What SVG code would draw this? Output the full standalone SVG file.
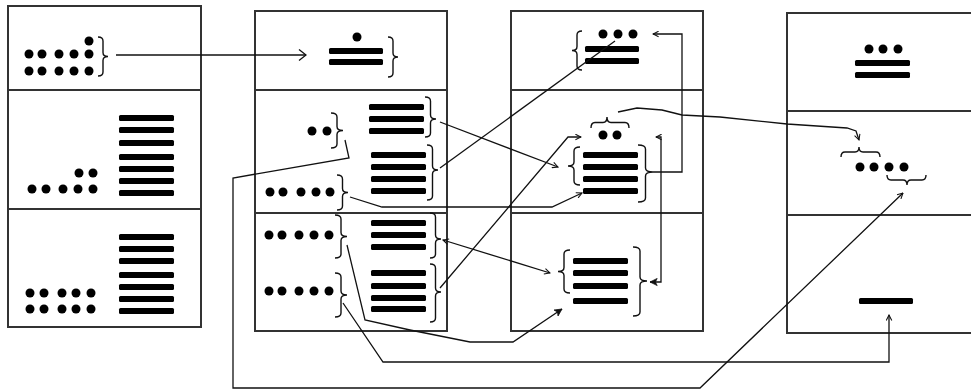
<svg xmlns="http://www.w3.org/2000/svg" width="971" height="391" viewBox="0 0 971 391">
<style>
.box{fill:none;stroke:#333;stroke-width:2}
.d{fill:#000}
.b{fill:#000}
.br{fill:none;stroke:#111;stroke-width:1.4}
.c{fill:none;stroke:#111;stroke-width:1.3}
</style>
<defs>
<marker id="ao" viewBox="0 0 10 10" refX="9" refY="5" markerWidth="7" markerHeight="7" markerUnits="userSpaceOnUse" orient="auto-start-reverse"><path d="M1,1 L9,5 L1,9" fill="none" stroke="#111" stroke-width="1.5"/></marker>
<marker id="abig" viewBox="0 0 10 10" refX="9" refY="5" markerWidth="14" markerHeight="14" markerUnits="userSpaceOnUse" orient="auto"><path d="M4,1 L9,5 L4,9" fill="none" stroke="#111" stroke-width="0.9"/></marker>
<marker id="af" viewBox="0 0 10 10" refX="9" refY="5" markerWidth="9" markerHeight="9" markerUnits="userSpaceOnUse" orient="auto"><path d="M1,1 L9,5 L1,9 L3,5 Z" fill="#111" stroke="#111" stroke-width="0.8"/></marker>
</defs>

<g id="col1">
<rect class="box" x="8" y="6" width="193" height="321"/>
<line class="box" x1="8" y1="90" x2="201" y2="90"/>
<line class="box" x1="8" y1="209" x2="201" y2="209"/>
</g>
<g id="c1-top">
<circle class="d" cx="89" cy="41" r="4.5"/>
<circle class="d" cx="29" cy="54" r="4.5"/><circle class="d" cx="42" cy="54" r="4.5"/><circle class="d" cx="59" cy="54" r="4.5"/><circle class="d" cx="74" cy="54" r="4.5"/><circle class="d" cx="89" cy="54" r="4.5"/>
<circle class="d" cx="29" cy="71" r="4.5"/><circle class="d" cx="42" cy="71" r="4.5"/><circle class="d" cx="59" cy="71" r="4.5"/><circle class="d" cx="74" cy="71" r="4.5"/><circle class="d" cx="89" cy="71" r="4.5"/>
<path class="br" d="M98,37 Q103,37 103,41 L103,52.5 Q103,56.5 108,56.5 Q103,56.5 103,60.5 L103,72 Q103,76 98,76"/>
</g>
<g id="c1-mid">
<circle class="d" cx="79" cy="173" r="4.5"/><circle class="d" cx="93" cy="173" r="4.5"/>
<circle class="d" cx="32" cy="189" r="4.5"/><circle class="d" cx="46" cy="189" r="4.5"/><circle class="d" cx="63" cy="189" r="4.5"/><circle class="d" cx="78" cy="189" r="4.5"/><circle class="d" cx="93" cy="189" r="4.5"/>
<rect class="b" x="119" y="115" width="55" height="6" rx="1.5"/><rect class="b" x="119" y="127" width="55" height="6" rx="1.5"/><rect class="b" x="119" y="140" width="55" height="6" rx="1.5"/><rect class="b" x="119" y="154" width="55" height="6" rx="1.5"/><rect class="b" x="119" y="166" width="55" height="6" rx="1.5"/><rect class="b" x="119" y="178" width="55" height="6" rx="1.5"/><rect class="b" x="119" y="190" width="55" height="6" rx="1.5"/>
</g>
<g id="c1-bot">
<rect class="b" x="119" y="234" width="55" height="6" rx="1.5"/><rect class="b" x="119" y="246" width="55" height="6" rx="1.5"/><rect class="b" x="119" y="258" width="55" height="6" rx="1.5"/><rect class="b" x="119" y="272" width="55" height="6" rx="1.5"/><rect class="b" x="119" y="284" width="55" height="6" rx="1.5"/><rect class="b" x="119" y="296" width="55" height="6" rx="1.5"/><rect class="b" x="119" y="308" width="55" height="6" rx="1.5"/>
<circle class="d" cx="30" cy="293" r="4.5"/><circle class="d" cx="44" cy="293" r="4.5"/><circle class="d" cx="62" cy="293" r="4.5"/><circle class="d" cx="76" cy="293" r="4.5"/><circle class="d" cx="91" cy="293" r="4.5"/>
<circle class="d" cx="30" cy="309" r="4.5"/><circle class="d" cx="44" cy="309" r="4.5"/><circle class="d" cx="62" cy="309" r="4.5"/><circle class="d" cx="76" cy="309" r="4.5"/><circle class="d" cx="91" cy="309" r="4.5"/>
</g>

<g id="col2">
<rect class="box" x="255" y="11" width="192" height="320"/>
<line class="box" x1="255" y1="90" x2="447" y2="90"/>
<line class="box" x1="255" y1="213" x2="447" y2="213"/>
</g>
<g id="c2-top">
<circle class="d" cx="357" cy="37" r="4.5"/>
<rect class="b" x="329" y="48" width="54" height="6" rx="1.5"/><rect class="b" x="329" y="59" width="54" height="6" rx="1.5"/>
<path class="br" d="M388,37 Q393,37 393,41 L393,53 Q393,57 398,57 Q393,57 393,61 L393,73 Q393,77 388,77"/>
</g>
<g id="c2-mid">
<circle class="d" cx="312" cy="131" r="4.5"/><circle class="d" cx="327" cy="131" r="4.5"/>
<path class="br" d="M331,113 Q337,113 337,117 L337,126.5 Q337,130.5 343,130.5 Q337,130.5 337,134.5 L337,144 Q337,148 331,148"/>
<rect class="b" x="369" y="104" width="55" height="6" rx="1.5"/><rect class="b" x="369" y="116" width="55" height="6" rx="1.5"/><rect class="b" x="369" y="128" width="55" height="6" rx="1.5"/>
<path class="br" d="M425,97 Q430.5,97 430.5,101 L430.5,115 Q430.5,119 436,119 Q430.5,119 430.5,123 L430.5,133 Q430.5,137 425,137"/>
<rect class="b" x="371" y="152" width="55" height="6" rx="1.5"/><rect class="b" x="371" y="164" width="55" height="6" rx="1.5"/><rect class="b" x="371" y="176" width="55" height="6" rx="1.5"/><rect class="b" x="371" y="188" width="55" height="6" rx="1.5"/>
<path class="br" d="M427,145 Q432.5,145 432.5,149 L432.5,166 Q432.5,170 438,170 Q432.5,170 432.5,174 L432.5,196 Q432.5,200 427,200"/>
<circle class="d" cx="270" cy="192" r="4.5"/><circle class="d" cx="283" cy="192" r="4.5"/><circle class="d" cx="301" cy="192" r="4.5"/><circle class="d" cx="316" cy="192" r="4.5"/><circle class="d" cx="330" cy="192" r="4.5"/>
<path class="br" d="M337,175 Q342.5,175 342.5,179 L342.5,188.5 Q342.5,192.5 348,192.5 Q342.5,192.5 342.5,196.5 L342.5,206 Q342.5,210 337,210"/>
</g>
<g id="c2-bot">
<circle class="d" cx="269" cy="235" r="4.5"/><circle class="d" cx="282" cy="235" r="4.5"/><circle class="d" cx="299" cy="235" r="4.5"/><circle class="d" cx="314" cy="235" r="4.5"/><circle class="d" cx="329" cy="235" r="4.5"/>
<path class="br" d="M335,215 Q341,215 341,219 L341,232.5 Q341,236.5 347,236.5 Q341,236.5 341,240.5 L341,254 Q341,258 335,258"/>
<circle class="d" cx="269" cy="291" r="4.5"/><circle class="d" cx="282" cy="291" r="4.5"/><circle class="d" cx="299" cy="291" r="4.5"/><circle class="d" cx="314" cy="291" r="4.5"/><circle class="d" cx="329" cy="291" r="4.5"/>
<path class="br" d="M335,273 Q341,273 341,277 L341,291 Q341,295 347,295 Q341,295 341,299 L341,313 Q341,317 335,317"/>
<rect class="b" x="371" y="220" width="55" height="6" rx="1.5"/><rect class="b" x="371" y="232" width="55" height="6" rx="1.5"/><rect class="b" x="371" y="244" width="55" height="6" rx="1.5"/>
<path class="br" d="M430,213 Q435.5,213 435.5,217 L435.5,235 Q435.5,239 441,239 Q435.5,239 435.5,243 L435.5,254 Q435.5,258 430,258"/>
<rect class="b" x="371" y="270" width="55" height="6" rx="1.5"/><rect class="b" x="371" y="283" width="55" height="6" rx="1.5"/><rect class="b" x="371" y="295" width="55" height="6" rx="1.5"/><rect class="b" x="371" y="306" width="55" height="6" rx="1.5"/>
<path class="br" d="M430,264 Q435.5,264 435.5,268 L435.5,288 Q435.5,292 441,292 Q435.5,292 435.5,296 L435.5,318 Q435.5,322 430,322"/>
</g>

<g id="col3">
<rect class="box" x="511" y="11" width="192" height="320"/>
<line class="box" x1="511" y1="90" x2="703" y2="90"/>
<line class="box" x1="511" y1="213" x2="703" y2="213"/>
</g>
<g id="c3-top">
<circle class="d" cx="603" cy="34" r="4.5"/><circle class="d" cx="618" cy="34" r="4.5"/><circle class="d" cx="633" cy="34" r="4.5"/>
<rect class="b" x="585" y="46" width="54" height="6" rx="1.5"/><rect class="b" x="585" y="58" width="54" height="6" rx="1.5"/>
<path class="br" d="M582,31 Q577,31 577,35 L577,46.5 Q577,50.5 572,50.5 Q577,50.5 577,54.5 L577,66 Q577,70 582,70"/>
</g>
<g id="c3-mid">
<path class="br" d="M591,128 Q591,122.5 595,122.5 L603,122.5 Q607,122.5 607,117 Q607,122.5 611,122.5 L625,122.5 Q629,122.5 629,128"/>
<circle class="d" cx="603" cy="135" r="4.5"/><circle class="d" cx="617" cy="135" r="4.5"/>
<rect class="b" x="583" y="152" width="55" height="6" rx="1.5"/><rect class="b" x="583" y="164" width="55" height="6" rx="1.5"/><rect class="b" x="583" y="176" width="55" height="6" rx="1.5"/><rect class="b" x="583" y="188" width="55" height="6" rx="1.5"/>
<path class="br" d="M580,147 Q574,147 574,151 L574,162 Q574,166 568,166 Q574,166 574,170 L574,181 Q574,185 580,185"/>
<path class="br" d="M638,145 Q645.5,145 645.5,149 L645.5,168 Q645.5,172 653,172 Q645.5,172 645.5,176 L645.5,198 Q645.5,202 638,202"/>
</g>
<g id="c3-bot">
<rect class="b" x="573" y="258" width="55" height="6" rx="1.5"/><rect class="b" x="573" y="270" width="55" height="6" rx="1.5"/><rect class="b" x="573" y="283" width="55" height="6" rx="1.5"/><rect class="b" x="573" y="298" width="55" height="6" rx="1.5"/>
<path class="br" d="M570,250 Q564,250 564,254 L564,267.5 Q564,271.5 558,271.5 Q564,271.5 564,275.5 L564,289 Q564,293 570,293"/>
<path class="br" d="M633,247 Q640,247 640,251 L640,277 Q640,281 647,281 Q640,281 640,285 L640,312 Q640,316 633,316"/>
</g>

<g id="col4">
<rect class="box" x="787" y="13" width="190" height="320"/>
<line class="box" x1="787" y1="111" x2="977" y2="111"/>
<line class="box" x1="787" y1="215" x2="977" y2="215"/>
</g>
<g id="c4-top">
<circle class="d" cx="869" cy="49" r="4.5"/><circle class="d" cx="883" cy="49" r="4.5"/><circle class="d" cx="898" cy="49" r="4.5"/>
<rect class="b" x="855" y="60" width="55" height="6" rx="1.5"/><rect class="b" x="855" y="72" width="55" height="6" rx="1.5"/>
</g>
<g id="c4-mid">
<path class="br" d="M841,157 Q841,152 845,152 L855,152 Q859,152 859,147 Q859,152 863,152 L876,152 Q880,152 880,157"/>
<circle class="d" cx="860" cy="167" r="4.5"/><circle class="d" cx="874" cy="167" r="4.5"/><circle class="d" cx="889" cy="167" r="4.5"/><circle class="d" cx="904" cy="167" r="4.5"/>
<path class="br" d="M887,175 Q887,180 891,180 L903,180 Q907,180 907,185 Q907,180 911,180 L922,180 Q926,180 926,175"/>
</g>
<g id="c4-bot">
<rect class="b" x="859" y="298" width="54" height="6" rx="1.5"/>
</g>

<g id="connectors">
<path class="c" d="M116,55 L306,55" marker-end="url(#abig)"/>
<path class="c" d="M345,140 L349,158 L233,178 L233,388 L700,388 L903,193" marker-end="url(#ao)"/>
<path class="c" d="M343,303 L383,362 L889,362 L889,315" marker-end="url(#ao)"/>
<path class="c" d="M347,245 L365,320 L410,330 L470,342 L513,342 L562,309" marker-end="url(#af)"/>
<path class="c" d="M350,197 L382,207 L552,207 L582,193" marker-end="url(#ao)"/>
<path class="c" d="M440,122 L558,167" marker-end="url(#ao)"/>
<path class="c" d="M440,168 L615,41"/>
<path class="c" d="M443,240 L550,273" marker-start="url(#ao)" marker-end="url(#ao)"/>
<path class="c" d="M440,288 L568,137 L581,137" marker-end="url(#ao)"/>
<path class="c" d="M653,172 L682,172 L682,34 L653,34" marker-end="url(#ao)"/>
<path class="c" d="M618,112 L637,108 L662,110 L682,115 L720,117 L787,124 L847,128 L856,131 L859,140" marker-end="url(#ao)"/>
<path class="c" d="M656,137 L661,137 L661,282 L650,282" marker-start="url(#ao)" marker-end="url(#af)"/>
</g>
</svg>
